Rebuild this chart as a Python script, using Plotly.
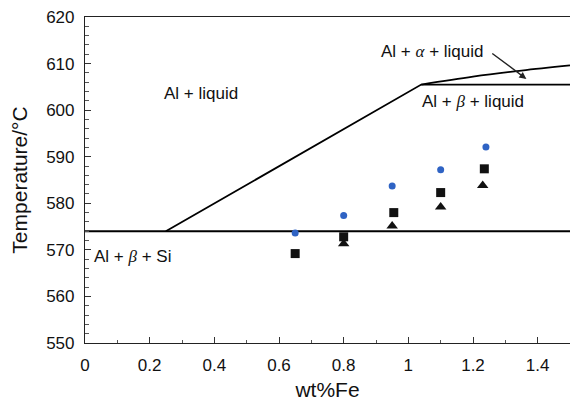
import plotly.graph_objects as go

# Phase boundary lines (wt%Fe, temperature °C)
eutectic_x = [0.0, 1.5]
eutectic_y = [574.0, 574.0]
liquidus_x = [0.25, 1.04, 1.5]
liquidus_y = [574.0, 605.5, 605.5]
alpha_x = [1.04, 1.2, 1.35, 1.5]
alpha_y = [605.5, 607.2, 608.5, 609.6]

# Measured points
circle_x = [0.65, 0.80, 0.95, 1.10, 1.24]
circle_y = [573.6, 577.4, 583.7, 587.2, 592.1]
square_x = [0.65, 0.80, 0.955, 1.10, 1.235]
square_y = [569.2, 572.8, 578.0, 582.3, 587.4]
tri_x = [0.80, 0.95, 1.10, 1.23]
tri_y = [571.3, 575.1, 579.2, 583.8]

x_ticks = [0, 0.2, 0.4, 0.6, 0.8, 1.0, 1.2, 1.4]
x_tick_text = ["0", "0.2", "0.4", "0.6", "0.8", "1", "1.2", "1.4"]
y_ticks = [550, 560, 570, 580, 590, 600, 610, 620]

FONT = "Liberation Sans, Arial, sans-serif"
GREEK = "<span style='font-family:Liberation Serif;font-style:italic'>%s</span>"

fig = go.Figure()
line_style = dict(color="black", width=1.8)
fig.add_trace(go.Scatter(x=eutectic_x, y=eutectic_y, mode="lines", line=line_style, showlegend=False))
fig.add_trace(go.Scatter(x=liquidus_x, y=liquidus_y, mode="lines", line=line_style, showlegend=False))
fig.add_trace(go.Scatter(x=alpha_x, y=alpha_y, mode="lines", line=dict(color="black", width=1.8, shape="spline"), showlegend=False))

fig.add_trace(go.Scatter(x=circle_x, y=circle_y, mode="markers",
                         marker=dict(symbol="circle", size=7, color="#2f63c4"), showlegend=False))
fig.add_trace(go.Scatter(x=square_x, y=square_y, mode="markers",
                         marker=dict(symbol="square", size=9, color="#111111"), showlegend=False))
fig.add_trace(go.Scatter(x=tri_x, y=tri_y, mode="markers",
                         marker=dict(symbol="triangle-up", size=10, color="#111111"), showlegend=False))

ann_font = dict(family=FONT, size=17, color="#111111")
fig.add_annotation(x=0.36, y=603.6, text="Al + liquid", showarrow=False, font=ann_font)
fig.add_annotation(x=0.022, y=568.6, text="Al + " + GREEK % "β" + " + Si", showarrow=False,
                   font=ann_font, xanchor="left")
fig.add_annotation(x=1.2, y=601.8, text="Al + " + GREEK % "β" + " + liquid", showarrow=False, font=ann_font)
fig.add_annotation(x=1.075, y=612.6, text="Al + " + GREEK % "α" + " + liquid", showarrow=False, font=ann_font)
fig.add_annotation(x=1.365, y=606.7, ax=1.255, ay=612.4, axref="x", ayref="y", xref="x", yref="y",
                   text="", showarrow=True, arrowhead=2, arrowsize=1, arrowwidth=1.4, arrowcolor="#222222")

fig.update_layout(
    width=570, height=401, autosize=False,
    margin=dict(l=85, r=0, t=17, b=58, autoexpand=False),
    paper_bgcolor="white", plot_bgcolor="white",
    font=dict(family=FONT, size=17, color="#111111"),
)
fig.update_xaxes(range=[0, 1.5], tickvals=x_ticks, ticktext=x_tick_text, automargin=False,
                 ticks="inside", ticklen=6, tickcolor="#333", showgrid=False, zeroline=False,
                 showline=True, linecolor="#222", linewidth=1.2, mirror=True,
                 minor=dict(dtick=0.1, ticks="inside", ticklen=3, tickcolor="#555"),
                 ticklabelstandoff=6,
                 title=dict(text="wt%Fe", font=dict(size=21)),
                 tickfont=dict(size=17))
fig.update_yaxes(range=[550, 620], tickvals=y_ticks, automargin=False,
                 ticks="inside", ticklen=6, tickcolor="#333", showgrid=False, zeroline=False,
                 showline=True, linecolor="#222", linewidth=1.2, mirror=True,
                 minor=dict(dtick=2, ticks="inside", ticklen=4, tickcolor="#555"),
                 ticklabelstandoff=6,
                 title=dict(text="Temperature/°C", font=dict(size=21), standoff=12),
                 tickfont=dict(size=17))

post = ("document.body.style.margin='0px';"
        "document.body.style.overflow='hidden';"
        "Plotly.relayout('{plot_id}', {width: 570, height: 401});")
fig.write_html("out.html", config={"responsive": False, "displayModeBar": False}, post_script=post)
